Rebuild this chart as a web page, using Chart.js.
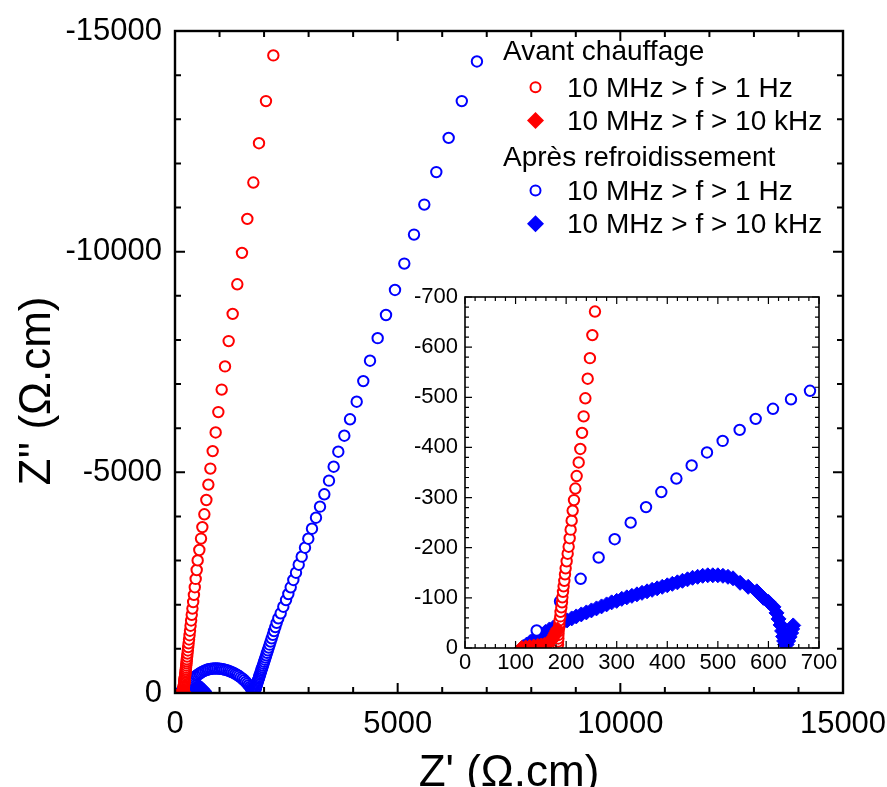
<!DOCTYPE html>
<html>
<head>
<meta charset="utf-8">
<script src="https://cdn.jsdelivr.net/npm/chart.js@4.4.0/dist/chart.umd.min.js"></script>
<style>
html, body { margin: 0; padding: 0; background: #ffffff; }
#wrap { position: relative; width: 887px; height: 787px; overflow: hidden; background: #ffffff; }
#main { position: absolute; left: 0; top: 0; width: 887px; height: 787px; }
#inset { position: absolute; left: 400px; top: 280px; width: 440px; height: 400px; }
</style>
</head>
<body>
<div id="wrap">
  <canvas id="main" width="887" height="787"></canvas>
  <canvas id="inset" width="440" height="400"></canvas>
</div>
<script>
// ---------------- DATA ----------------
// Avant chauffage, 10 MHz > f > 1 Hz (open circles)
const redCircleX = [184,184,184.6,184.6,185,186,186.5,187,188.5,189,190.5,191.8,192.5,193.8,195,196.4,197.7,199,201,203,205,207,208.9,210.9,212.9,215.5,218.2,220.8,224.8,228,231.4,234.6,238,242.6,247,251.8,257,
  261,266,273,280,288,296,305,315,326,337,349,362,376,391,408,425,444,
  464,487,509,546,584,614,659,704,749,794,846,913,973,1048,1123,1205,1295,1399,1504,1624,1759,1886,2043,2208];
const redCircleY = [-7,-13,-19,-26,-33,-40,-47,-55,-63,-72,-81,-91,-101,-112,-123,-134,-147,-159,-173,-188,-202,-219,-236,-254,-274,-295,-318,-343,-370,-397,-429,-462,-498,-537,-578,-624,-671,
  -718,-766,-827,-893,-964,-1041,-1124,-1213,-1309,-1412,-1524,-1644,-1773,-1912,-2062,-2223,-2397,
  -2585,-2787,-3005,-3240,-3499,-3759,-4049,-4373,-4722,-5085,-5481,-5903,-6365,-6875,-7400,-7974,-8590,-9261,-9973,-10743,-11567,-12458,-13412,-14447];

// Avant chauffage, 10 MHz > f > 10 kHz (filled diamonds)
const redDiamondX = [112,120,128,136,144,151,157,162,166,170,173,175,177,179,181,183];
const redDiamondY = [-1,-2,-3,-4,-5,-6,-7,-9,-11,-14,-18,-22,-26,-30,-34,-38];

// Après refroidissement, 10 MHz > f > 1 Hz (open circles)
const blueCircleX = [141.7,187.9,228.7,264.3,296,327.6,358,388.2,418,448.2,478.5,509.5,543.1,574.8,609,644.6,682.2,
  720,758,797,836,876,916,956,996,1036,1076,1116,1156,1196,1236,1276,1316,1356,1396,1436,1476,1516,1554,1590,1624,1655,1683,1707,1728,1746,1762,1776,1788,1797,1803,
  1806,1812,1818,1824,1831,1838,1845,1853,1861,1869,1878,1887,1896,1906,1916,1926,1937,1948,1961,1973,1987,2001,2016,2031,2048,2066,2084,2104,2125,2147,2171,2197,2224,2253,2283,
  2320,2373,2432,2493,2545,2598,2657,2717,2778,2845,2919,2993,3076,3166,3256,3353,3458,3563,3667,3802,3930,4080,4228,4379,4551,4738,4940,5149,5367,5598,5868,6145,6440,6780];
const blueCircleY = [-35,-93,-138,-180.5,-217,-250,-281,-311,-338,-364,-390,-413,-435,-457,-477,-496,-513,
  -527,-538,-546,-551,-554,-555,-554,-551,-546,-539,-530,-519,-506,-491,-474,-455,-434,-410,-384,-355,-323,-289,-252,-214,-176,-139,-106,-80,-62,-52,-50,-56,-68,-82,
  -98,-116,-135,-155,-176,-198,-221,-245,-270,-296,-323,-351,-380,-410,-441,-474,-508,-544,-582,-622,-664,-708,-754,-803,-855,-910,-968,-1030,-1095,-1165,-1240,-1320,-1405,-1495,-1590,
  -1693,-1806,-1955,-2107,-2243,-2395,-2561,-2726,-2907,-3089,-3292,-3496,-3723,-3972,-4222,-4503,-4811,-5128,-5468,-5830,-6202,-6601,-7067,-7530,-8040,-8565,-9132,-9730,-10387,-11067,-11803,-12578,-13412,-14310];

// Après refroidissement, 10 MHz > f > 10 kHz (filled diamonds)
const blueDiamondX = [115,122,129,136,143,151,159,167,175,184,193,202,211,220,230,240,250,260,270,280,290,300,310,320,330,340,350,360,370,380,390,400,410,420,430,440,450,460,470,480,490,500,510,520,530,544,560,577,590,600,610,616,620,624,627,629,631,633,636,639,642,645,647,649];
const blueDiamondY = [-2,-7,-12,-17,-22,-27,-32,-37,-41,-46,-51,-55,-59,-63,-67,-71,-75,-79,-83,-87,-91,-94,-98,-101,-104,-107,-110,-113,-116,-119,-122,-125,-128,-131,-134,-137,-140,-142,-144,-145,-145,-145,-144,-142,-139,-130,-122,-113,-100,-92,-82,-70,-58,-46,-34,-23,-14,-7,-7,-14,-22,-30,-38,-45];

// Axes / ticks / labels
const mainXRange = [0, 15000];
const mainYRange = [-15000, 0];
const mainMajorStep = 5000;
const mainMinorStep = 1000;
const insetXRange = [0, 700];
const insetYRange = [-700, 0];
const insetMajorStep = 100;
const insetMinorStep = 20;
const xTitle = "Z' (\u03A9.cm)";
const yTitle = "Z'' (\u03A9.cm)";
const legendHeaders = ["Avant chauffage", "Apr\u00e8s refroidissement"];
const legendItems = ["10 MHz > f > 1 Hz", "10 MHz > f > 10 kHz"];

// ---------------- STYLE ----------------
const FONT = "'Liberation Sans', Arial, Helvetica, sans-serif";
const RED = '#ff0000';
const BLUE = '#0000ff';

function pts(xs, ys) { return xs.map((x, i) => ({ x: x, y: ys[i] })); }

function makeDatasets() {
  // first dataset is drawn on top
  return [
    { label: legendHeaders[0] + ' ' + legendItems[1], data: pts(redDiamondX, redDiamondY),
      pointStyle: 'rectRot', pointRadius: 7, backgroundColor: RED, borderColor: RED, borderWidth: 1, clip: 0 },
    { label: legendHeaders[0] + ' ' + legendItems[0], data: pts(redCircleX, redCircleY),
      pointStyle: 'circle', pointRadius: 5.2, backgroundColor: '#ffffff', borderColor: RED, borderWidth: 2, clip: 0 },
    { label: legendHeaders[1] + ' ' + legendItems[0], data: pts(blueCircleX, blueCircleY),
      pointStyle: 'circle', pointRadius: 5.2, backgroundColor: '#ffffff', borderColor: BLUE, borderWidth: 2, clip: 0 },
    { label: legendHeaders[1] + ' ' + legendItems[1], data: pts(blueDiamondX, blueDiamondY),
      pointStyle: 'rectRot', pointRadius: 7.5, backgroundColor: BLUE, borderColor: BLUE, borderWidth: 1, clip: 0 }
  ];
}

function frameTicks(cfg) {
  return {
    id: 'frameTicks',
    afterDatasetsDraw(chart) {
      const ctx = chart.ctx, a = chart.chartArea;
      const xs = chart.scales.x, ys = chart.scales.y;
      ctx.save();
      ctx.strokeStyle = '#000';
      ctx.lineWidth = cfg.tickWidth;
      ctx.beginPath();
      const nx = Math.round((xs.max - xs.min) / cfg.minor);
      for (let i = 0; i <= nx; i++) {
        const v = xs.min + i * cfg.minor;
        const p = xs.getPixelForValue(v);
        const L = (Math.abs(v % cfg.major) < 1e-6) ? cfg.majorLen : cfg.minorLen;
        ctx.moveTo(p, a.bottom); ctx.lineTo(p, a.bottom - L);
        ctx.moveTo(p, a.top); ctx.lineTo(p, a.top + L);
      }
      const ny = Math.round((ys.max - ys.min) / cfg.minor);
      for (let i = 0; i <= ny; i++) {
        const v = ys.min + i * cfg.minor;
        const p = ys.getPixelForValue(v);
        const L = (Math.abs(v % cfg.major) < 1e-6) ? cfg.majorLen : cfg.minorLen;
        ctx.moveTo(a.left, p); ctx.lineTo(a.left + L, p);
        ctx.moveTo(a.right, p); ctx.lineTo(a.right - L, p);
      }
      ctx.stroke();
      ctx.lineWidth = cfg.frameWidth;
      ctx.strokeRect(a.left, a.top, a.right - a.left, a.bottom - a.top);
      ctx.restore();
    }
  };
}

const decorPlugin = {
  id: 'decor',
  afterDraw(chart) {
    const ctx = chart.ctx, a = chart.chartArea;
    ctx.save();
    ctx.fillStyle = '#000';
    // axis titles
    ctx.font = '44px ' + FONT;
    ctx.textAlign = 'center';
    ctx.textBaseline = 'alphabetic';
    ctx.fillText(xTitle, (a.left + a.right) / 2, 786);
    ctx.save();
    ctx.translate(50, 391);
    ctx.rotate(-Math.PI / 2);
    ctx.fillText(yTitle, 0, 0);
    ctx.restore();
    // legend
    const rows = [
      { type: 'head', text: legendHeaders[0], base: 60 },
      { type: 'circle', color: RED, text: legendItems[0], base: 96.7 },
      { type: 'diamond', color: RED, text: legendItems[1], base: 130 },
      { type: 'head', text: legendHeaders[1], base: 166 },
      { type: 'circle', color: BLUE, text: legendItems[0], base: 200 },
      { type: 'diamond', color: BLUE, text: legendItems[1], base: 233.3 }
    ];
    ctx.textAlign = 'left';
    ctx.font = '28px ' + FONT;
    rows.forEach(r => {
      ctx.fillStyle = '#000';
      if (r.type === 'head') {
        ctx.fillText(r.text, 503, r.base);
        return;
      }
      ctx.fillText(r.text, 567, r.base);
      const my = r.base - 9.5, mx = 535.5;
      if (r.type === 'circle') {
        ctx.beginPath();
        ctx.arc(mx, my, 5, 0, Math.PI * 2);
        ctx.fillStyle = '#fff'; ctx.fill();
        ctx.lineWidth = 2; ctx.strokeStyle = r.color; ctx.stroke();
      } else {
        const s = 8.5;
        ctx.beginPath();
        ctx.moveTo(mx, my - s); ctx.lineTo(mx + s, my); ctx.lineTo(mx, my + s); ctx.lineTo(mx - s, my); ctx.closePath();
        ctx.fillStyle = r.color; ctx.fill();
      }
    });
    ctx.restore();
  }
};

function axisCfg(range, step, size, pad, fitFn, reverse) {
  return {
    type: 'linear', min: range[0], max: range[1], reverse: !!reverse,
    ticks: { stepSize: step, autoSkip: false, maxRotation: 0, minRotation: 0, color: '#000', padding: pad,
             font: { family: FONT, size: size }, callback: v => String(v) },
    grid: { display: false, drawTicks: false },
    border: { display: false },
    afterFit: s => { fitFn(s); s.paddingLeft = 0; s.paddingRight = 0; s.paddingTop = 0; s.paddingBottom = 0; }
  };
}

const common = {
  responsive: false, maintainAspectRatio: false, animation: false, devicePixelRatio: 1, events: [],
  plugins: { legend: { display: false }, tooltip: { enabled: false } },
  elements: { point: { hoverRadius: 0 } }
};

new Chart(document.getElementById('main'), {
  type: 'scatter',
  data: { datasets: makeDatasets() },
  options: Object.assign({}, common, {
    layout: { padding: { left: 0, top: 31, right: 44, bottom: 0 } },
    scales: {
      x: axisCfg(mainXRange, mainMajorStep, 31, 13, s => { s.height = 94; }),
      y: axisCfg(mainYRange, mainMajorStep, 31, 13, s => { s.width = 175; }, true)
    }
  }),
  plugins: [frameTicks({ major: mainMajorStep, minor: mainMinorStep, majorLen: 10, minorLen: 6, tickWidth: 2, frameWidth: 2.4 }), decorPlugin]
});

new Chart(document.getElementById('inset'), {
  type: 'scatter',
  data: { datasets: makeDatasets() },
  options: Object.assign({}, common, {
    layout: { padding: { left: 0, top: 17, right: 21, bottom: 0 } },
    scales: {
      x: axisCfg(insetXRange, insetMajorStep, 22, 2, s => { s.height = 32; }),
      y: axisCfg(insetYRange, insetMajorStep, 22, 7, s => { s.width = 65; }, true)
    }
  }),
  plugins: [frameTicks({ major: insetMajorStep, minor: insetMinorStep, majorLen: 7, minorLen: 4, tickWidth: 1.2, frameWidth: 1.6 })]
});
</script>
</body>
</html>
